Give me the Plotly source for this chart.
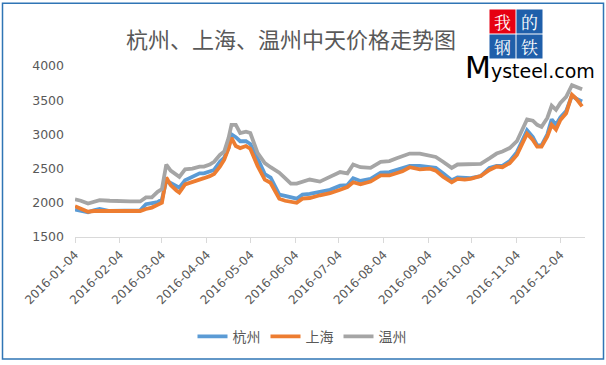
import plotly.graph_objects as go

dates = ["2016-01-04","2016-01-08","2016-01-13","2016-01-17","2016-01-21","2016-01-28",
         "2016-02-04","2016-02-11","2016-02-18","2016-02-22","2016-02-26","2016-03-01",
         "2016-03-04","2016-03-07","2016-03-10","2016-03-14","2016-03-16","2016-03-20",
         "2016-03-25","2016-03-30","2016-04-02","2016-04-06","2016-04-09","2016-04-13",
         "2016-04-16","2016-04-19","2016-04-21","2016-04-24","2016-04-27","2016-05-01",
         "2016-05-04","2016-05-09","2016-05-14","2016-05-18","2016-05-24","2016-05-28",
         "2016-06-01","2016-06-05","2016-06-09","2016-06-14","2016-06-21","2016-06-28",
         "2016-07-05","2016-07-10","2016-07-14","2016-07-19","2016-07-26","2016-08-02",
         "2016-08-08","2016-08-13","2016-08-17","2016-08-22","2016-08-29","2016-09-05",
         "2016-09-09","2016-09-14","2016-09-20","2016-09-24","2016-09-29","2016-10-03",
         "2016-10-10","2016-10-16","2016-10-21","2016-10-25","2016-10-30","2016-11-04",
         "2016-11-08","2016-11-11","2016-11-15","2016-11-18","2016-11-21","2016-11-25",
         "2016-11-28","2016-12-01","2016-12-04","2016-12-08","2016-12-12","2016-12-15",
         "2016-12-19"]

hangzhou = [1900,1880,1860,1890,1910,1880,1880,1880,1890,1980,1990,2010,
            2050,2320,2290,2240,2220,2330,2380,2430,2430,2460,2480,2600,
            2660,2800,3000,2960,2900,2900,2860,2650,2420,2370,2120,2100,
            2080,2060,2120,2130,2160,2190,2250,2260,2360,2320,2350,2440,
            2450,2480,2500,2540,2540,2520,2510,2430,2330,2370,2360,2360,
            2390,2510,2540,2540,2610,2740,2920,3060,2960,2840,2840,3000,
            3220,3140,3250,3340,3570,3520,3480]

shanghai = [1950,1910,1870,1880,1880,1880,1880,1880,1880,1910,1930,1970,
            2000,2370,2260,2180,2150,2270,2300,2340,2360,2390,2420,2530,
            2630,2800,2950,2830,2800,2830,2790,2540,2340,2290,2060,2030,
            2010,2000,2060,2070,2110,2140,2190,2230,2300,2270,2310,2400,
            2400,2440,2460,2520,2490,2500,2470,2380,2300,2350,2340,2350,
            2390,2480,2530,2520,2580,2700,2870,3010,2920,2820,2820,2970,
            3140,3070,3210,3310,3580,3520,3410]

wenzhou = [2050,2030,1990,2020,2040,2030,2020,2020,2020,2080,2080,2160,
           2200,2560,2470,2420,2380,2490,2500,2530,2530,2560,2600,2700,
           2750,2950,3140,3140,3020,3040,3020,2730,2580,2520,2440,2360,
           2280,2280,2310,2340,2310,2380,2450,2430,2560,2520,2510,2600,
           2610,2650,2680,2720,2720,2690,2670,2600,2510,2560,2560,2560,
           2570,2650,2720,2750,2800,2900,3070,3220,3200,3140,3110,3240,
           3420,3360,3460,3550,3720,3700,3660]

series_names = ["杭州", "上海", "温州"]
series_colors = ["#5B9BD5", "#ED7D31", "#A5A5A5"]
title_text = "杭州、上海、温州中天价格走势图"

W, H = 606, 365
L, R, T, B = 75, 21, 66, 126
pw, ph = W - L - R, H - T - B

def px(x):
    return (x - L) / pw

def py(y):
    return (H - B - y) / ph

fig = go.Figure()
for name, vals, col in zip(series_names, [hangzhou, shanghai, wenzhou], series_colors):
    fig.add_trace(go.Scatter(x=dates, y=vals, mode="lines", name=name,
                             line=dict(color=col, width=3.8)))

cjk = "Noto Sans CJK SC"
fig.update_layout(
    width=W, height=H,
    margin=dict(l=L, r=R, t=T, b=B),
    paper_bgcolor="white", plot_bgcolor="white",
    title=dict(text=title_text, x=291 / W, xanchor="center", xref="container",
               y=1 - 40 / H, yanchor="middle", yref="container",
               font=dict(family=cjk, size=22, color="#595959")),
    xaxis=dict(type="date", range=["2016-01-04", "2016-12-21"],
               tick0="2016-01-04", dtick="M1", tickformat="%Y-%m-%d",
               tickangle=-45, showgrid=False, showline=True, linecolor="#D9D9D9",
               linewidth=1, ticks="outside", tickcolor="#D9D9D9", ticklen=5,
               tickfont=dict(family="DejaVu Sans", size=12, color="#595959")),
    yaxis=dict(range=[1500, 4000], dtick=500, showgrid=False, showline=False,
               zeroline=False, ticks="", ticklabelstandoff=10,
               tickfont=dict(family="DejaVu Sans", size=12.5, color="#595959")),
    legend=dict(orientation="h", x=px(302), xanchor="center", y=py(340), yanchor="middle",
                font=dict(family=cjk, size=14, color="#595959"),
                itemwidth=30, bgcolor="rgba(0,0,0,0)"),
    showlegend=True,
)

# Border around the whole image
fig.add_shape(type="rect", xref="paper", yref="paper",
              x0=px(2.5), x1=px(603.5), y0=py(362.5), y1=py(2.5),
              line=dict(color="#2F75B5", width=1.5), fillcolor="rgba(0,0,0,0)", layer="below")

# Logo
logo = [("我", 502, 20.5, "#E60012"), ("的", 529.5, 20.5, "#1F5FAA"),
        ("钢", 502, 46.5, "#1F5FAA"), ("铁", 529.5, 46.5, "#1F5FAA")]
for ch, cx, cy, bg in logo:
    fig.add_annotation(text=ch, xref="paper", yref="paper", x=px(cx), y=py(cy),
                       xanchor="center", yanchor="middle", showarrow=False,
                       width=25, height=23, bgcolor=bg, borderpad=0,
                       font=dict(family="Noto Serif CJK SC, Noto Sans CJK SC", size=17, color="white"))
fig.add_annotation(text="<span style='font-size:30px'>M</span>ysteel.com",
                   xref="paper", yref="paper", x=px(530), y=py(68),
                   xanchor="center", yanchor="middle", showarrow=False,
                   font=dict(family="DejaVu Sans", size=19, color="black"))

fig.write_html("out.html", config={"displayModeBar": False},
               post_script="document.body.style.margin='0px';document.body.style.padding='0px';")
